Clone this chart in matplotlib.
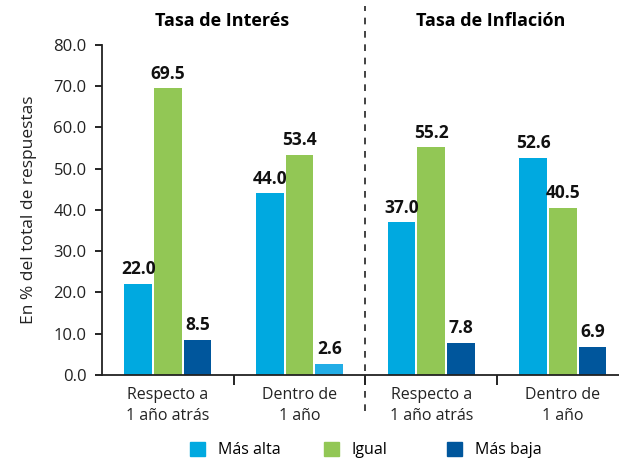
import matplotlib
matplotlib.use('Agg')
import matplotlib.pyplot as plt
import numpy as np

plt.rcParams['font.family'] = ['Open Sans', 'DejaVu Sans']

categories = ['Respecto a\n1 año atrás', 'Dentro de\n1 año', 'Respecto a\n1 año atrás', 'Dentro de\n1 año']
mas_alta = [22.0, 44.0, 37.0, 52.6]
igual = [69.5, 53.4, 55.2, 40.5]
mas_baja = [8.5, 2.6, 7.8, 6.9]
series_names = ['Más alta', 'Igual', 'Más baja']
titles = ['Tasa de Interés', 'Tasa de Inflación']

c_alta = '#00a9e0'
c_igual = '#92c755'
c_baja = '#00569c'

fig = plt.figure(figsize=(6.19, 4.61), dpi=100)
ax = fig.add_axes([0.1648, 0.1866, 0.851, 0.7158])

x = np.arange(len(categories))
w = 0.21
off = 0.225
baja_colors = [c_baja, '#22ade6', c_baja, c_baja]
b1 = ax.bar(x - off, mas_alta, w, color=c_alta, label=series_names[0])
b2 = ax.bar(x, igual, w, color=c_igual, label=series_names[1])
b3 = ax.bar(x + off, mas_baja, w, color=baja_colors, label=series_names[2])

for bars, vals in [(b1, mas_alta), (b2, igual), (b3, mas_baja)]:
    for r, v in zip(bars, vals):
        ax.text(r.get_x() + r.get_width() / 2, v + 1.4, f'{v:.1f}', ha='center', va='bottom',
                fontsize=12.5, fontweight='bold', color='#111111')

ax.set_xlim(-0.5, 3.5)
ax.set_ylim(0, 80)
ax.set_yticks(np.arange(0, 81, 10))
ax.set_yticklabels([f'{v:.1f}' for v in np.arange(0, 81, 10)], fontsize=12, color='#222222')
ax.tick_params(axis='y', length=5, width=1.2, direction='out', pad=6)

ax.set_xticks([0.5, 1.5, 2.5])
ax.set_xticklabels([])
ax.tick_params(axis='x', which='major', length=7, width=1.2, direction='out')
ax.set_xticks(x, minor=True)
ax.set_xticklabels(categories, minor=True, fontsize=11.5, color='#222222', linespacing=1.4)
ax.tick_params(axis='x', which='minor', length=0, pad=9)

for s in ['top', 'right']:
    ax.spines[s].set_visible(False)
for s in ['left', 'bottom']:
    ax.spines[s].set_linewidth(1.3)
    ax.spines[s].set_color('#222222')

ax.set_ylabel('En % del total de respuestas', fontsize=12.5, color='#222222', labelpad=12)

ax.plot([1.5, 1.5], [-8.8, 89.5], ls=(0, (4, 4)), color='#222222', lw=1.2, clip_on=False)

ax.text(0.41, 85.8, titles[0], ha='center', va='center', fontsize=13, fontweight='bold')
ax.text(2.45, 85.8, titles[1], ha='center', va='center', fontsize=13, fontweight='bold')

# legend items placed one by one, as in the original
for h, name, xpos in zip([b1, b2, b3], series_names, [190 / 619, 324 / 619, 447 / 619]):
    leg = fig.legend(handles=[h], labels=[name], loc='center left', bbox_to_anchor=(xpos, 0.024),
                     frameon=False, fontsize=11.5, handlelength=0.95, handleheight=0.95,
                     handletextpad=0.8, borderpad=0, borderaxespad=0)
    leg.legend_handles[0].set_color(h.patches[0].get_facecolor())

fig.savefig('out.png', dpi=100)
